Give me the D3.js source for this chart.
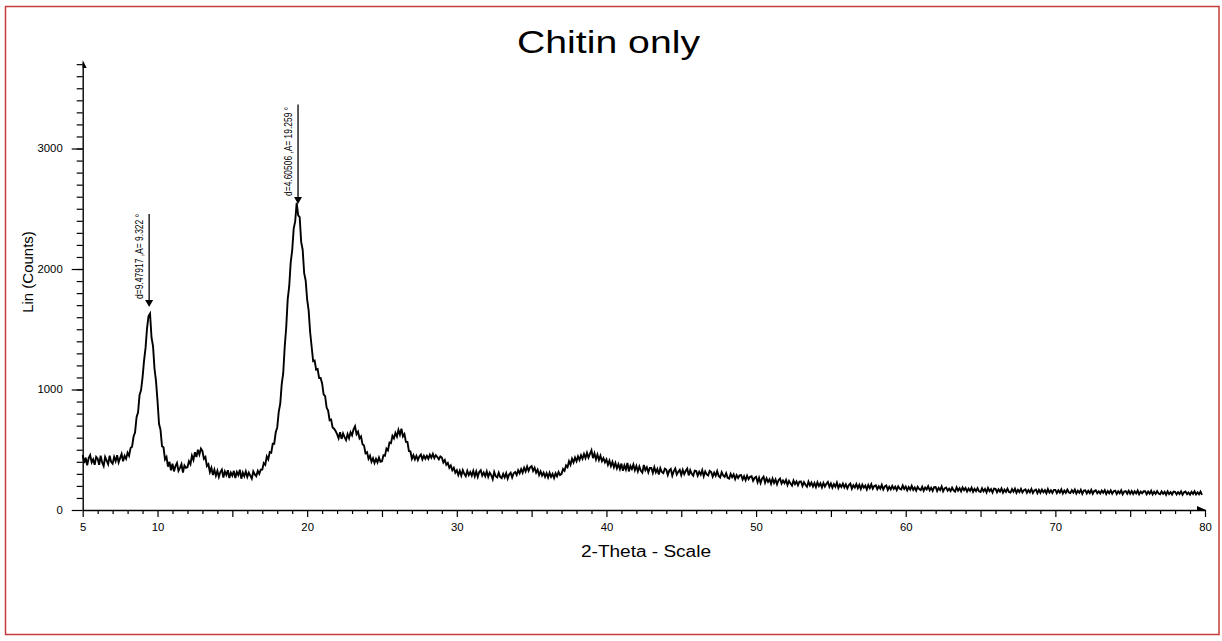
<!DOCTYPE html>
<html>
<head>
<meta charset="utf-8">
<script src="https://cdn.jsdelivr.net/npm/d3@7"></script>
<style>
  body { margin: 0; background: #fff; }
  svg { display: block; font-family: "Liberation Sans", Arial, sans-serif; }
</style>
</head>
<body>
<div id="chart"></div>
<script>
// 2-theta grid: 5.0 .. 79.8 in 0.1 degree steps (one row per degree)
var thetaStart = 5.0;
var thetaStep = 0.1;

// Lin (Counts)
var counts = [
  455, 390, 435, 370, 430, 455, 395, 420, 375, 440,      // 5
  425, 375, 450, 395, 365, 440, 410, 380, 450, 400,      // 6
  385, 440, 405, 455, 395, 430, 465, 405, 450, 425,      // 7
  475, 450, 515, 525, 610, 645, 770, 810, 955, 995,      // 8
  1100, 1240, 1345, 1510, 1610, 1630, 1430, 1360, 1170, 1070, // 9
  905, 715, 665, 530, 520, 420, 440, 360, 400, 330,      // 10
  385, 320, 365, 390, 325, 350, 380, 310, 370, 350,      // 11
  355, 405, 380, 450, 415, 480, 440, 500, 460, 510,      // 12
  490, 425, 440, 365, 380, 315, 350, 290, 335, 285,      // 13
  325, 275, 315, 335, 270, 320, 290, 330, 265, 310,      // 14
  285, 325, 265, 315, 290, 335, 260, 310, 280, 320,      // 15
  275, 310, 285, 260, 320, 295, 280, 325, 300, 335,      // 16
  335, 390, 375, 445, 420, 480, 475, 550, 550, 645,      // 17
  685, 815, 880, 1045, 1135, 1355, 1515, 1750, 1855, 2055, // 18
  2155, 2335, 2395, 2550, 2445, 2430, 2225, 2160, 1965, 1905, // 19
  1745, 1655, 1475, 1355, 1235, 1240, 1165, 1170, 1095, 1095, // 20
  1050, 960, 945, 850, 825, 745, 750, 685, 675, 655,     // 21
  630, 595, 645, 590, 635, 605, 580, 630, 595, 645,      // 22
  620, 670, 695, 630, 650, 595, 610, 545, 535, 470,      // 23
  480, 425, 450, 400, 430, 390, 425, 395, 435, 400,      // 24
  405, 455, 450, 510, 495, 560, 555, 615, 595, 640,      // 25
  610, 665, 625, 675, 610, 630, 565, 565, 490, 485,      // 26
  425, 455, 420, 450, 415, 445, 460, 420, 450, 425,      // 27
  450, 425, 460, 435, 465, 430, 455, 440, 420, 445,      // 28
  435, 395, 415, 375, 390, 350, 370, 330, 350, 310,      // 29
  330, 290, 325, 285, 330, 300, 280, 325, 290, 315,      // 30
  285, 325, 280, 320, 275, 315, 330, 285, 310, 280,      // 31
  320, 275, 310, 290, 255, 315, 280, 270, 310, 275,      // 32
  265, 300, 270, 305, 260, 295, 310, 270, 305, 315,      // 33
  290, 330, 305, 340, 310, 350, 320, 360, 325, 355,      // 34
  365, 325, 350, 310, 335, 290, 320, 285, 310, 275,      // 35
  305, 270, 310, 275, 300, 265, 305, 280, 315, 290,      // 36
  300, 340, 325, 370, 355, 405, 375, 425, 395, 435,      // 37
  405, 445, 415, 455, 425, 465, 430, 475, 435, 465,      // 38
  495, 430, 470, 420, 460, 415, 450, 405, 430, 395,      // 39
  420, 375, 410, 365, 400, 355, 390, 345, 380, 340,      // 40
  385, 325, 370, 335, 390, 320, 365, 340, 377, 330,      // 41
  365, 320, 360, 325, 310, 373, 330, 355, 313, 350,      // 42
  350, 307, 355, 313, 340, 295, 347, 315, 305, 343,      // 43
  335, 290, 327, 340, 285, 323, 345, 295, 317, 333,      // 44
  290, 333, 297, 325, 343, 287, 330, 300, 285, 327,      // 45
  323, 285, 317, 293, 330, 280, 320, 295, 287, 325,      // 46
  315, 277, 310, 285, 323, 283, 270, 313, 287, 275,      // 47
  305, 267, 260, 300, 273, 295, 257, 290, 265, 287,      // 48
  290, 253, 280, 247, 285, 255, 275, 280, 243, 267,      // 49
  275, 230, 267, 223, 260, 277, 227, 263, 233, 255,      // 50
  217, 260, 225, 253, 213, 247, 261, 220, 245, 223,      // 51
  250, 207, 241, 220, 203, 245, 215, 237, 205, 235,      // 52
  237, 200, 231, 209, 193, 235, 203, 227, 195, 223,      // 53
  190, 230, 199, 221, 187, 225, 195, 217, 233, 193,      // 54
  220, 185, 215, 193, 227, 183, 211, 191, 219, 187,      // 55
  213, 180, 207, 220, 177, 205, 187, 215, 181, 209,      // 56
  175, 210, 185, 203, 171, 207, 181, 213, 177, 200,      // 57
  205, 173, 197, 177, 209, 170, 195, 203, 167, 193,      // 58
  171, 200, 175, 193, 165, 197, 177, 171, 203, 175,      // 59
  195, 163, 190, 169, 200, 167, 187, 161, 193, 173,      // 60
  165, 193, 160, 187, 171, 197, 163, 185, 159, 189,      // 61
  191, 157, 183, 165, 195, 155, 180, 187, 160, 177,      // 62
  157, 185, 163, 153, 189, 161, 181, 155, 187, 165,      // 63
  183, 153, 177, 159, 185, 151, 175, 157, 181, 155,      // 64
  150, 180, 155, 175, 147, 183, 157, 173, 145, 177,      // 65
  175, 147, 171, 153, 179, 145, 169, 151, 177, 150,      // 66
  145, 173, 151, 177, 143, 167, 149, 175, 145, 165,      // 67
  171, 143, 165, 147, 175, 141, 163, 169, 140, 167,      // 68
  143, 170, 147, 165, 139, 173, 145, 163, 141, 167,      // 69
  167, 140, 163, 145, 171, 137, 161, 143, 169, 145,      // 70
  140, 165, 145, 169, 137, 160, 143, 167, 135, 161,      // 71
  163, 137, 159, 141, 167, 135, 157, 163, 139, 155,      // 72
  137, 161, 143, 165, 133, 157, 140, 163, 135, 155,      // 73
  160, 133, 155, 139, 163, 131, 153, 157, 135, 159,      // 74
  135, 157, 133, 155, 137, 161, 130, 153, 139, 155,      // 75
  155, 131, 153, 135, 159, 129, 151, 133, 157, 137,      // 76
  131, 155, 135, 151, 127, 155, 133, 149, 129, 153,      // 77
  151, 129, 149, 133, 155, 127, 147, 153, 131, 145,      // 78
  127, 151, 133, 155, 129, 147, 131, 153, 125          // 79
];

// axis ticks
var yMajorTicks = [0, 1000, 2000, 3000];
var xLabelTicks = [5, 10, 20, 30, 40, 50, 60, 70, 80];

// peak markers: position, arrow tip, top of arrow line, label
var peakTheta = [9.44, 19.39];
var peakTip = [1685, 2540];
var peakTop = [2456, 3365];
var peakLabels = ["d=9.47917 ,A= 9.322 \u00b0", "d=4.60506 ,A= 19.259 \u00b0"];

var data = counts.map(function(c, i) {
  return { theta: thetaStart + i * thetaStep, count: c };
});

var fullWidth = 1222, fullHeight = 641;

var svg = d3.select("#chart").append("svg")
  .attr("width", fullWidth)
  .attr("height", fullHeight);

// red frame around the picture
svg.append("rect")
  .attr("x", 5.5).attr("y", 6.5)
  .attr("width", 1213.5).attr("height", 628)
  .attr("fill", "#fff")
  .attr("stroke", "#c83c3c")
  .attr("stroke-width", 1.5);

var x = d3.scaleLinear().domain([5, 80]).range([82.7, 1205]);
var y = d3.scaleLinear().domain([0, 3718]).range([510, 62]);

// title (the picture is stretched sideways, so text is widened)
svg.append("text")
  .attr("x", 517).attr("y", 53)
  .attr("font-size", 32)
  .attr("textLength", 183)
  .attr("lengthAdjust", "spacingAndGlyphs")
  .text("Chitin only");

// Y axis: minor ticks every 100
svg.append("g")
  .attr("transform", "translate(" + x(5) + ",0)")
  .call(d3.axisLeft(y).tickValues(d3.range(100, 3800, 100)).tickSize(6).tickFormat(""))
  .call(g => g.select(".domain").remove())
  .selectAll(".tick line").attr("stroke", "#000").attr("stroke-width", 1.2);

var yAxis = svg.append("g")
  .attr("transform", "translate(" + x(5) + ",0)")
  .call(d3.axisLeft(y).tickValues(yMajorTicks).tickFormat(d3.format("d"))
    .tickSize(11).tickSizeOuter(0).tickPadding(9));
yAxis.select(".domain").attr("stroke", "#000").attr("stroke-width", 1.4);
yAxis.selectAll(".tick line").attr("stroke-width", 1.2);
yAxis.selectAll(".tick text")
  .attr("font-family", "Liberation Sans, Arial, sans-serif")
  .attr("font-size", 10)
  .attr("fill", "#000")
  .attr("textLength", d => String(d).length * 6.3)
  .attr("lengthAdjust", "spacingAndGlyphs");

// X axis: minor ticks every 1, medium every 5
svg.append("g")
  .attr("transform", "translate(0," + y(0) + ")")
  .call(d3.axisBottom(x).tickValues(d3.range(6, 80, 1).filter(d => d % 5 !== 0)).tickSize(4).tickFormat(""))
  .call(g => g.select(".domain").remove())
  .selectAll(".tick line").attr("stroke-width", 1.2);

svg.append("g")
  .attr("transform", "translate(0," + y(0) + ")")
  .call(d3.axisBottom(x).tickValues([15, 25, 35, 45, 55, 65, 75]).tickSize(7).tickFormat(""))
  .call(g => g.select(".domain").remove())
  .selectAll(".tick line").attr("stroke-width", 1.2);

var xAxis = svg.append("g")
  .attr("transform", "translate(0," + y(0) + ")")
  .call(d3.axisBottom(x).tickValues(xLabelTicks).tickFormat(d3.format("d"))
    .tickSize(7).tickSizeOuter(0).tickPadding(7));
xAxis.select(".domain").attr("stroke", "#000").attr("stroke-width", 1.4);
xAxis.selectAll(".tick line").attr("stroke-width", 1.2);
xAxis.selectAll(".tick text")
  .attr("font-family", "Liberation Sans, Arial, sans-serif")
  .attr("font-size", 10)
  .attr("fill", "#000")
  .attr("textLength", d => String(d).length * 6.3)
  .attr("lengthAdjust", "spacingAndGlyphs");

// little half arrowheads at the axis ends
svg.append("path")
  .attr("d", "M" + x(5) + "," + (y(3718) - 2) + "L" + (x(5) + 4) + "," + (y(3718) + 6) + "L" + x(5) + "," + (y(3718) + 6) + "Z")
  .attr("fill", "#000");
svg.append("path")
  .attr("d", "M" + (x(80) - 8) + "," + (y(0) - 4) + "L" + (x(80) + 1) + "," + y(0) + "L" + (x(80) - 8) + "," + y(0) + "Z")
  .attr("fill", "#000");

// axis titles
svg.append("text")
  .attr("x", 646).attr("y", 557)
  .attr("text-anchor", "middle")
  .attr("font-size", 16)
  .attr("textLength", 130)
  .attr("lengthAdjust", "spacingAndGlyphs")
  .text("2-Theta - Scale");

svg.append("text")
  .attr("transform", "translate(33,272) rotate(-90)")
  .attr("text-anchor", "middle")
  .attr("font-size", 15)
  .text("Lin (Counts)");

// the diffraction pattern
var line = d3.line()
  .x(d => x(d.theta))
  .y(d => y(d.count));

svg.append("path")
  .datum(data)
  .attr("fill", "none")
  .attr("stroke", "#000")
  .attr("stroke-width", 1.9)
  .attr("stroke-linejoin", "miter")
  .attr("d", line);

// peak markers with rotated labels
peakTheta.forEach(function(t, i) {
  var px = x(t);
  svg.append("line")
    .attr("x1", px).attr("x2", px)
    .attr("y1", y(peakTop[i])).attr("y2", y(peakTip[i]) - 4)
    .attr("stroke", "#000").attr("stroke-width", 1.3);
  svg.append("path")
    .attr("d", "M" + (px - 4) + "," + (y(peakTip[i]) - 7) + "L" + (px + 4) + "," + (y(peakTip[i]) - 7) + "L" + px + "," + y(peakTip[i]) + "Z")
    .attr("fill", "#000");
  svg.append("text")
    .attr("transform", "translate(" + (px - 6) + "," + (y(peakTip[i]) - 8) + ") rotate(-90)")
    .attr("font-size", 11)
    .attr("textLength", i === 0 ? 85 : 89)
    .attr("lengthAdjust", "spacingAndGlyphs")
    .text(peakLabels[i]);
});
</script>
</body>
</html>
